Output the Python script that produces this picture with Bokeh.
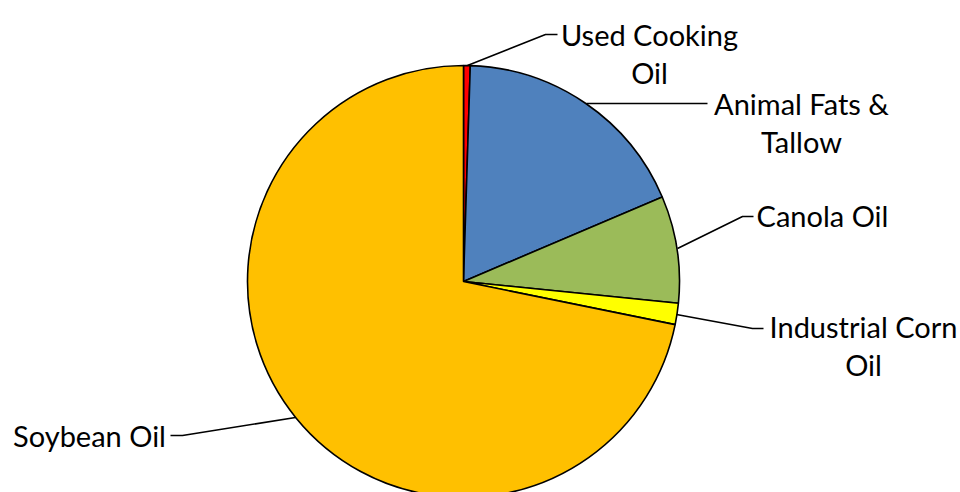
import math
from bokeh.plotting import figure
from bokeh.models import Range1d, ColumnDataSource
from bokeh.core.properties import value
from bokeh.embed import file_html
from bokeh.resources import INLINE

# ---- data ----
categories = ["Used Cooking Oil", "Animal Fats & Tallow", "Canola Oil",
              "Industrial Corn Oil", "Soybean Oil"]
shares = [0.5, 18.1, 8.0, 1.6, 71.8]
colors = ["#FF0000", "#4F81BD", "#9BBB59", "#FFFF00", "#FFC000"]
label_lines = [["Used Cooking", "Oil"], ["Animal Fats &", "Tallow"], ["Canola Oil"],
               ["Industrial Corn", "Oil"], ["Soybean Oil"]]

# ---- layout (pixel coordinates, y measured from top) ----
W, H = 960, 492
CX, CY, R = 463, 281, 216
FONT = "Lato"
FS = "29px"
LINE_H = 38
label_anchor = [(649, 34), (801, 103), (822, 215), (863, 326), (89, 435)]
leaders = [
    [(467, 65), (545, 34), (557, 34)],
    [(586, 103), (707, 103)],
    [(677, 248), (742, 216), (753, 216)],
    [(676, 314), (752, 328), (763, 328)],
    [(295, 417), (182, 435), (170, 435)],
]

def Y(py):
    return H - py

total = sum(shares)
starts, ends = [], []
cum = 0.0
for s in shares:
    starts.append(math.pi / 2 - 2 * math.pi * cum / total)
    cum += s
    ends.append(math.pi / 2 - 2 * math.pi * cum / total)

p = figure(width=W, height=H, x_range=Range1d(0, W), y_range=Range1d(0, H),
           output_backend="svg", toolbar_location=None, min_border=0)
p.axis.visible = False
p.grid.visible = False
p.outline_line_color = None
p.background_fill_color = "white"
p.border_fill_color = "white"

src = ColumnDataSource(dict(x=[CX] * len(shares), y=[Y(CY)] * len(shares),
                            start=starts, end=ends, color=colors, cat=categories))
p.wedge(x="x", y="y", radius=R, radius_units="data", start_angle="start", end_angle="end",
        direction="clock", fill_color="color", line_color="black", line_width=1.6,
        source=src)

for pts in leaders:
    p.line([a for a, b in pts], [Y(b) for a, b in pts], line_color="black", line_width=1.6)

tx, ty, tt = [], [], []
for (ax, ay), lines in zip(label_anchor, label_lines):
    for i, t in enumerate(lines):
        tx.append(ax)
        ty.append(Y(ay + i * LINE_H))
        tt.append(t)
p.text(x=tx, y=ty, text=tt, text_align="center", text_baseline="alphabetic",
       text_font=value(FONT), text_font_size=FS, text_color="black")

open("out.html", "w").write(file_html(p, INLINE))
